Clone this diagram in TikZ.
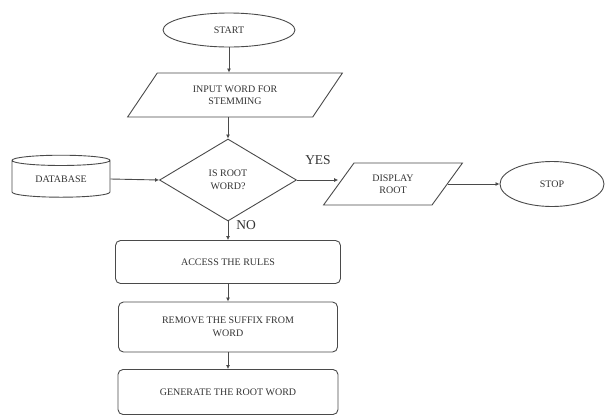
\documentclass[tikz,border=0pt]{standalone}
\usepackage{fontspec}
\setmainfont{Liberation Serif}
\usetikzlibrary{shapes.geometric,arrows.meta}
\definecolor{ln}{HTML}{4A4A4A}
\tikzset{
  base/.style={draw=ln, line width=0.9pt, text=black!80, font=\fontsize{10}{12.5}\selectfont, align=center, inner sep=0pt},
  term/.style={base, ellipse},
  io/.style={base, trapezium, trapezium left angle=50, trapezium right angle=130, trapezium stretches=true},
  dec/.style={base, diamond, aspect=1.67},
  proc/.style={base, rectangle, rounded corners=5pt},
  db/.style={base, cylinder, shape border rotate=90, shape aspect=0.2},
  conn/.style={draw=ln, line width=0.9pt, -{Latex[length=4pt,width=4pt]}},
  lbl/.style={font=\fontsize{13.5}{15}\selectfont, text=black!80, inner sep=0pt}
}
\begin{document}
\begin{tikzpicture}[x=1pt,y=-1pt]
\useasboundingbox (0,0) rectangle (605,416);
\node[term, minimum width=132pt, minimum height=34pt] (start) at (229,30) {START};
\node[io, minimum width=215pt, minimum height=44pt] (input) at (235,95) {INPUT WORD FOR\\STEMMING};
\node[dec, minimum width=137pt, minimum height=82pt] (dec) at (228,180) {IS ROOT\\WORD?};
\node[db, minimum width=98pt, minimum height=42pt] (db) at (61,179) {DATABASE};
\node[io, minimum width=140pt, minimum height=42pt] (disp) at (393,184) {DISPLAY\\ROOT};
\node[term, minimum width=104pt, minimum height=45pt] (stop) at (552,184) {STOP};
\node[proc, minimum width=225pt, minimum height=43pt] (acc) at (228,262) {ACCESS THE RULES};
\node[proc, minimum width=219pt, minimum height=50pt] (rem) at (228,327) {REMOVE THE SUFFIX FROM\\WORD};
\node[proc, minimum width=220pt, minimum height=45pt] (gen) at (228,392) {GENERATE THE ROOT WORD};
\node[lbl] (yes) at (318,160) {YES};
\node[lbl] (no) at (246,225) {NO};
\draw[conn] (start.south) -- (start.south |- input.north);
\draw[conn] (input.south -| dec.north) -- (dec.north);
\draw[conn] (db.east) -- (dec.west);
\draw[conn] (dec.east) -- (disp.west |- dec.east);
\draw[conn] (disp.east |- stop.west) -- (stop.west);
\draw[conn] (dec.south) -- (acc.north);
\draw[conn] (acc.south) -- (rem.north);
\draw[conn] (rem.south) -- (gen.north);
\end{tikzpicture}
\end{document}
